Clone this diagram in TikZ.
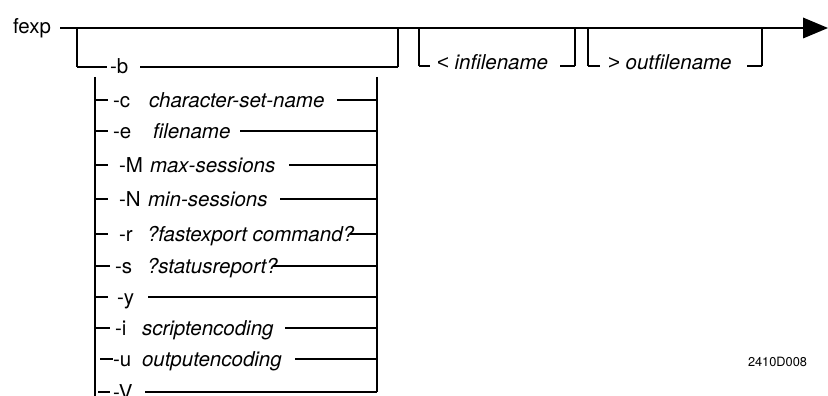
\documentclass[tikz,border=0pt]{standalone}
\usepackage{fontspec}
\setmainfont{TeX Gyre Heros}
\newfontfamily\relfont{Liberation Sans}
\begin{document}
\begin{tikzpicture}[x=1pt,y=-1pt,
  rail/.style={line width=1.3pt},
  vrail/.style={line width=1.6pt},
  lbl/.style={anchor=base west, inner sep=0pt, outer sep=0pt, font=\fontsize{20.5}{24}\selectfont},
  arg/.style={anchor=base west, inner sep=0pt, outer sep=0pt, font=\fontsize{20.5}{24}\selectfont\itshape},
  tag/.style={anchor=base west, inner sep=0pt, outer sep=0pt, font=\fontsize{12.8}{15}\selectfont}]
\useasboundingbox (0,0) rectangle (828,396);
% command name and main rail
\node[lbl] (fexp) at (13,34) {fexp};
\coordinate (m0) at (60,28);
\coordinate (m1) at (803,28);
\draw[rail] (m0) -- (m1);
\coordinate (a1) at (803,17.5);
\coordinate (a2) at (828,28);
\coordinate (a3) at (803,38.5);
\fill (a1) -- (a2) -- (a3) -- cycle;
% outer optional box
\coordinate (ob1) at (77,28);
\coordinate (ob2) at (77,67);
\coordinate (ob3) at (398,67);
\coordinate (ob4) at (398,28);
\draw[vrail] (ob1) -- (ob2);
\draw[vrail] (ob4) -- (ob3);
\node[lbl] (ob) at (110,74) {-b};
\coordinate (obl) at (107,67);
\coordinate (obr) at (140,67);
\draw[rail] (ob2) -- (obl);
\draw[rail] (obr) -- (ob3);
% inner choice verticals
\coordinate (il1) at (95,77);
\coordinate (il2) at (95,396);
\coordinate (ir1) at (377,77);
\coordinate (ir2) at (377,392);
\draw[vrail] (il1) -- (il2);
\draw[vrail] (ir1) -- (ir2);
% rows
% -c
\coordinate (c0) at (95,100); \coordinate (c1) at (108,100);
\coordinate (c2) at (337,100); \coordinate (c3) at (377,100);
\node[lbl] (cF) at (113,107) {-c};
\node[arg] (cA) at (149,107) {character-set-name};
\draw[rail] (c0) -- (c1); \draw[rail] (c2) -- (c3);
% -e
\coordinate (e0) at (95,131); \coordinate (e1) at (108,131);
\coordinate (e2) at (240,131); \coordinate (e3) at (377,131);
\node[lbl] (eF) at (113,138) {-e};
\node[arg] (eA) at (153,138) {filename};
\draw[rail] (e0) -- (e1); \draw[rail] (e2) -- (e3);
% -M
\coordinate (M0) at (95,165); \coordinate (M1) at (108,165);
\coordinate (M2) at (289,165); \coordinate (M3) at (377,165);
\node[lbl] (MF) at (119,172) {-M};
\node[arg] (MA) at (150,172) {max-sessions};
\draw[rail] (M0) -- (M1); \draw[rail] (M2) -- (M3);
% -N
\coordinate (N0) at (95,199); \coordinate (N1) at (108,199);
\coordinate (N2) at (280,199); \coordinate (N3) at (377,199);
\node[lbl] (NF) at (119,206) {-N};
\node[arg] (NA) at (148,206) {min-sessions};
\draw[rail] (N0) -- (N1); \draw[rail] (N2) -- (N3);
% -r
\coordinate (r0) at (95,234); \coordinate (r1) at (108,234);
\coordinate (r2) at (350,234); \coordinate (r3) at (377,234);
\node[lbl] (rF) at (119,241) {-r};
\node[arg] (rA) at (147,241) {?fastexport command?};
\draw[rail] (r0) -- (r1); \draw[rail] (r2) -- (r3);
% -s
\coordinate (s0) at (95,266); \coordinate (s1) at (110,266);
\coordinate (s2) at (273,266); \coordinate (s3) at (377,266);
\node[lbl] (sF) at (115,273) {-s};
\node[arg] (sA) at (147,273) {?statusreport?};
\draw[rail] (s0) -- (s1); \draw[rail] (s2) -- (s3);
% -y
\coordinate (y0) at (95,297); \coordinate (y1) at (108,297);
\coordinate (y2) at (148,297); \coordinate (y3) at (377,297);
\node[lbl] (yF) at (117,304) {-y};
\draw[rail] (y0) -- (y1); \draw[rail] (y2) -- (y3);
% -i
\coordinate (i0) at (95,328); \coordinate (i1) at (110,328);
\coordinate (i2) at (285,328); \coordinate (i3) at (377,328);
\node[lbl] (iF) at (115,335) {-i};
\node[arg] (iA) at (142,335) {scriptencoding};
\draw[rail] (i0) -- (i1); \draw[rail] (i2) -- (i3);
% -u
\coordinate (u0) at (100,359); \coordinate (u1) at (113,359);
\coordinate (u2) at (295,359); \coordinate (u3) at (377,359);
\node[lbl] (uF) at (113,366) {-u};
\node[arg] (uA) at (142,366) {outputencoding};
\draw[rail] (u0) -- (u1); \draw[rail] (u2) -- (u3);
% -V
\coordinate (V0) at (98,392); \coordinate (V1) at (110,392);
\coordinate (V2) at (145,392); \coordinate (V3) at (377,392);
\node[lbl] (VF) at (113,399) {-V};
\draw[rail] (V0) -- (V1); \draw[rail] (V2) -- (V3);
% < infilename
\coordinate (p1) at (419,28); \coordinate (p2) at (419,66);
\coordinate (p3) at (430,66); \coordinate (p4) at (560,66);
\coordinate (p5) at (575,66); \coordinate (p6) at (575,28);
\node[lbl] (inF) at (437,70) {{\relfont <} \textit{infilename}};
\draw[vrail] (p1) -- (p2); \draw[rail] (p2) -- (p3);
\draw[rail] (p4) -- (p5); \draw[vrail] (p5) -- (p6);
% > outfilename
\coordinate (q1) at (588,28); \coordinate (q2) at (588,66);
\coordinate (q3) at (600,66); \coordinate (q4) at (747,66);
\coordinate (q5) at (762,66); \coordinate (q6) at (762,28);
\node[lbl] (outF) at (608,70) {{\relfont >} \textit{outfilename}};
\draw[vrail] (q1) -- (q2); \draw[rail] (q2) -- (q3);
\draw[rail] (q4) -- (q5); \draw[vrail] (q5) -- (q6);
% figure tag
\node[tag] (tag) at (748,366) {2410D008};
\end{tikzpicture}
\end{document}
